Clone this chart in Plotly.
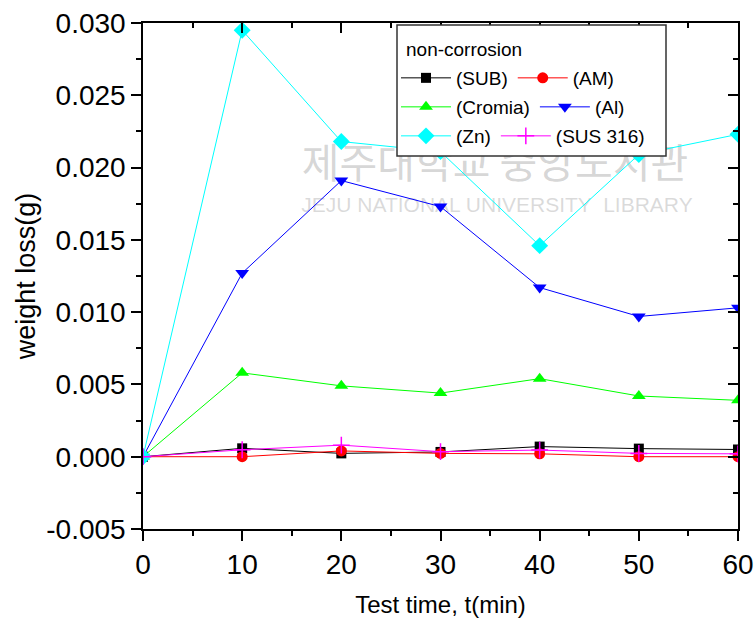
import plotly.graph_objects as go

time_min = [0, 10, 20, 30, 40, 50, 60]
sub = [0.0, 0.00058, 0.00023, 0.00033, 0.00070, 0.00056, 0.00050]
am = [0.0, 0.00000, 0.00040, 0.00023, 0.00020, 0.00000, 0.00000]
cromia = [0.0, 0.0058, 0.0049, 0.0044, 0.0054, 0.0042, 0.0039]
al = [0.0, 0.0127, 0.0191, 0.0173, 0.0117, 0.0097, 0.0103]
zn = [0.0, 0.0295, 0.0218, 0.0211, 0.0146, 0.0209, 0.0223]
sus316 = [0.0, 0.00048, 0.00080, 0.00035, 0.00046, 0.00023, 0.00020]

x_tick_vals = [0, 10, 20, 30, 40, 50, 60]
y_tick_vals = [-0.005, 0.000, 0.005, 0.010, 0.015, 0.020, 0.025, 0.030]
y_tick_text = ["-0.005", "0.000", "0.005", "0.010", "0.015", "0.020", "0.025", "0.030"]

legend_title = "non-corrosion"
watermark_ko = "제주대학교 중앙도서관"
watermark_en = "JEJU NATIONAL UNIVERSITY  LIBRARY"

# name, values, colour, marker symbol, marker size, legend row
series = [
    ("(SUB)", sub, "#000000", "square", 10, "legend"),
    ("(AM)", am, "#ff0000", "circle", 11, "legend"),
    ("(Cromia)", cromia, "#00ff00", "triangle-up", 12, "legend2"),
    ("(Al)", al, "#0000ff", "triangle-down", 12, "legend2"),
    ("(Zn)", zn, "#00ffff", "diamond", 13, "legend3"),
    ("(SUS 316)", sus316, "#ff00ff", "cross-thin", 12, "legend3"),
]

fig = go.Figure()
for name, vals, color, sym, size, leg in series:
    marker = dict(symbol=sym, size=size, color=color)
    if sym == "cross-thin":
        marker["line"] = dict(color=color, width=1.5)
    fig.add_trace(go.Scatter(
        x=time_min, y=vals, name=name, mode="lines+markers", legend=leg,
        line=dict(color=color, width=1), marker=marker,
    ))

# invisible trace so the mirrored top/right axes are drawn
fig.add_trace(go.Scatter(x=[0], y=[0], xaxis="x2", yaxis="y2", mode="markers",
                         marker=dict(opacity=0), showlegend=False, hoverinfo="skip"))

font_family = "Liberation Sans, Arial, sans-serif"

# plot area at x 143..738, y 23..529 of the 754x623 page
PL, PR, PT, PB = 143, 738, 23, 529
W, H = 754, 623
L, T = PL, PT
R, B = W - PR, H - PB
pw, ph = PR - PL, PB - PT


def px_x(p):
    return (p - PL) / pw


def px_y(p):
    return (PB - p) / ph


leg_common = dict(
    orientation="h", xanchor="left", yanchor="middle",
    bgcolor="rgba(0,0,0,0)", borderwidth=0,
    font=dict(size=19, family=font_family, color="black"),
    itemwidth=50, tracegroupgap=0,
)

axis_common = dict(
    showgrid=False, zeroline=False, automargin=False,
    showline=True, linecolor="black", linewidth=1.5,
)

fig.update_layout(
    width=W, height=H,
    margin=dict(l=L, r=R, t=T, b=B, autoexpand=False),
    paper_bgcolor="white", plot_bgcolor="white",
    font=dict(family=font_family, color="black", size=22),
    showlegend=True,
    legend=dict(x=px_x(396), y=px_y(78), **leg_common),
    legend2=dict(x=px_x(396), y=px_y(107), **leg_common),
    legend3=dict(x=px_x(396), y=px_y(136), **leg_common),
    xaxis=dict(
        range=[0, 60], tickvals=x_tick_vals, ticklabeloverflow="allow",
        ticks="outside", ticklen=10, tickwidth=1.5, tickcolor="black",
        minor=dict(dtick=5, tick0=0, ticks="outside", ticklen=5, tickwidth=1.5, tickcolor="black"),
        title=dict(text="Test time, t(min)", font=dict(size=24), standoff=17),
        tickfont=dict(size=28), **axis_common,
    ),
    yaxis=dict(
        range=[-0.005, 0.030], tickvals=y_tick_vals, ticktext=y_tick_text,
        ticklabeloverflow="allow",
        ticks="outside", ticklen=10, tickwidth=1.5, tickcolor="black",
        minor=dict(dtick=0.0025, tick0=0, ticks="outside", ticklen=5, tickwidth=1.5, tickcolor="black"),
        title=dict(text="weight loss(g)", font=dict(size=27), standoff=3),
        tickfont=dict(size=28), **axis_common,
    ),
    xaxis2=dict(
        overlaying="x", side="top", range=[0, 60], tickvals=x_tick_vals,
        showticklabels=False,
        ticks="inside", ticklen=10, tickwidth=1.5, tickcolor="black",
        minor=dict(dtick=5, tick0=0, ticks="inside", ticklen=5, tickwidth=1.5, tickcolor="black"),
        **axis_common,
    ),
    yaxis2=dict(
        overlaying="y", side="right", range=[-0.005, 0.030], tickvals=y_tick_vals,
        showticklabels=False,
        ticks="inside", ticklen=10, tickwidth=1.5, tickcolor="black",
        minor=dict(dtick=0.0025, tick0=0, ticks="inside", ticklen=5, tickwidth=1.5, tickcolor="black"),
        **axis_common,
    ),
)

# faint library watermark, drawn beneath the data
fig.add_shape(
    type="rect", xref="paper", yref="paper", layer="below",
    x0=px_x(290), x1=px_x(700), y0=px_y(192), y1=px_y(142),
    line=dict(width=0), fillcolor="rgba(0,0,0,0)",
    label=dict(text=watermark_ko, textposition="middle center",
               font=dict(family="Noto Sans CJK KR", size=41, color="rgba(150,150,150,0.4)")),
)
fig.add_shape(
    type="rect", xref="paper", yref="paper", layer="below",
    x0=px_x(300), x1=px_x(694), y0=px_y(212), y1=px_y(193),
    line=dict(width=0), fillcolor="rgba(0,0,0,0)",
    label=dict(text=watermark_en, textposition="middle center",
               font=dict(family=font_family, size=21, color="rgba(150,150,150,0.35)")),
)

# legend frame (opaque, covering the data beneath it)
fig.add_shape(
    type="rect", xref="paper", yref="paper", layer="above",
    x0=px_x(397), x1=px_x(666), y0=px_y(156), y1=px_y(25),
    line=dict(color="#333333", width=1.5), fillcolor="white",
)
fig.add_annotation(
    text=legend_title, xref="paper", yref="paper",
    x=px_x(404), y=px_y(49), xanchor="left", yanchor="middle", showarrow=False,
    font=dict(family=font_family, size=19, color="black"),
)

# remove the default 8 px page margin so the figure fills the window exactly
fig.write_html(
    "out.html",
    config={"displayModeBar": False},
    post_script="document.body.style.margin='0';document.body.style.overflow='hidden';",
)
